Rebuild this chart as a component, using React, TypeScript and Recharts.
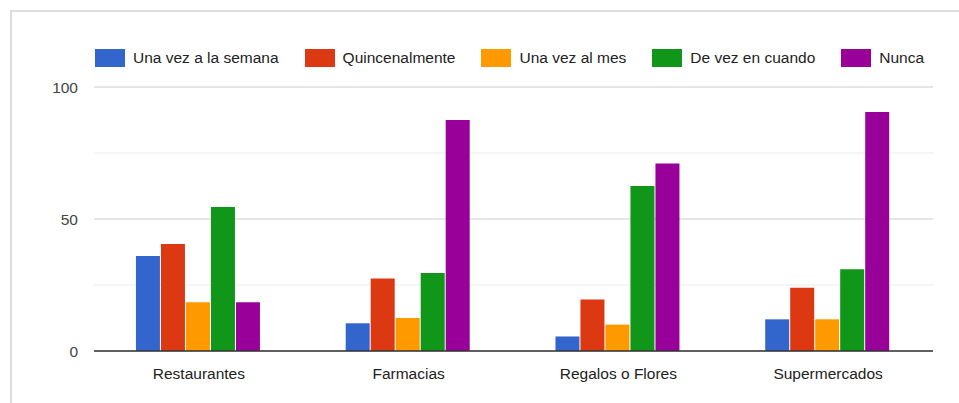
import { Bar, BarChart, CartesianGrid, XAxis, YAxis } from "recharts"

const categories = ["Restaurantes", "Farmacias", "Regalos o Flores", "Supermercados"]

const unaVezSemana = [36, 10.5, 5.5, 12]
const quincenalmente = [40.5, 27.5, 19.5, 24]
const unaVezMes = [18.5, 12.5, 10, 12]
const deVezEnCuando = [54.5, 29.5, 62.5, 31]
const nunca = [18.5, 87.5, 71, 90.5]

const yTicks = [0, 50, 100]
const minorTicks = [25, 75]

const series = [
  { key: "semana", name: "Una vez a la semana", color: "#3366cc", values: unaVezSemana },
  { key: "quincena", name: "Quincenalmente", color: "#dc3912", values: quincenalmente },
  { key: "mes", name: "Una vez al mes", color: "#ff9900", values: unaVezMes },
  { key: "aveces", name: "De vez en cuando", color: "#109618", values: deVezEnCuando },
  { key: "nunca", name: "Nunca", color: "#990099", values: nunca },
]

const data = categories.map((name, i) => {
  const row: Record<string, string | number> = { name }
  series.forEach((s) => {
    row[s.key] = s.values[i]
  })
  return row
})

const font = "'Liberation Sans', Arial, sans-serif"

function LegendRow() {
  return (
    <div
      style={{
        position: "absolute",
        left: 95,
        top: 49,
        display: "flex",
        alignItems: "center",
        fontFamily: font,
        fontSize: 15.5,
        color: "#222",
        whiteSpace: "nowrap",
      }}
    >
      {series.map((s) => (
        <div key={s.key} style={{ display: "flex", alignItems: "center", marginRight: 26 }}>
          <div style={{ width: 30, height: 18, background: s.color, marginRight: 8 }} />
          <span>{s.name}</span>
        </div>
      ))}
    </div>
  )
}

export default function App() {
  return (
    <div style={{ position: "absolute", left: 0, top: 0, width: 959, height: 403, background: "#fff", overflow: "hidden" }}>
      {/* card frame */}
      <div
        style={{
          position: "absolute",
          left: 10,
          top: 10,
          width: 960,
          height: 400,
          borderLeft: "2px solid #dcdcdc",
          borderTop: "2px solid #dcdcdc",
        }}
      />
      <div style={{ position: "absolute", left: 0, top: 0 }}>
        <BarChart
          width={959}
          height={403}
          data={data}
          margin={{ top: 87, right: 26, bottom: 21, left: 10 }}
          barCategoryGap="20%"
          barGap={1}
        >
          {/* light minor lines first, then the major ones */}
          <CartesianGrid vertical={false} horizontalValues={minorTicks} stroke="#ebebeb" />
          <CartesianGrid vertical={false} stroke="#cccccc" />
          <XAxis
            dataKey="name"
            height={31}
            tickLine={false}
            tickMargin={11}
            axisLine={{ stroke: "#333", strokeWidth: 1.5 }}
            tick={{ fill: "#222", fontSize: 15.5, fontFamily: font }}
          />
          <YAxis
            width={84}
            domain={[0, 100]}
            ticks={yTicks}
            tickLine={false}
            axisLine={false}
            tickMargin={10}
            tick={{ fill: "#444", fontSize: 15.5, fontFamily: font }}
          />
          {series.map((s) => (
            <Bar key={s.key} dataKey={s.key} name={s.name} fill={s.color} isAnimationActive={false} />
          ))}
        </BarChart>
      </div>
      <LegendRow />
    </div>
  )
}
